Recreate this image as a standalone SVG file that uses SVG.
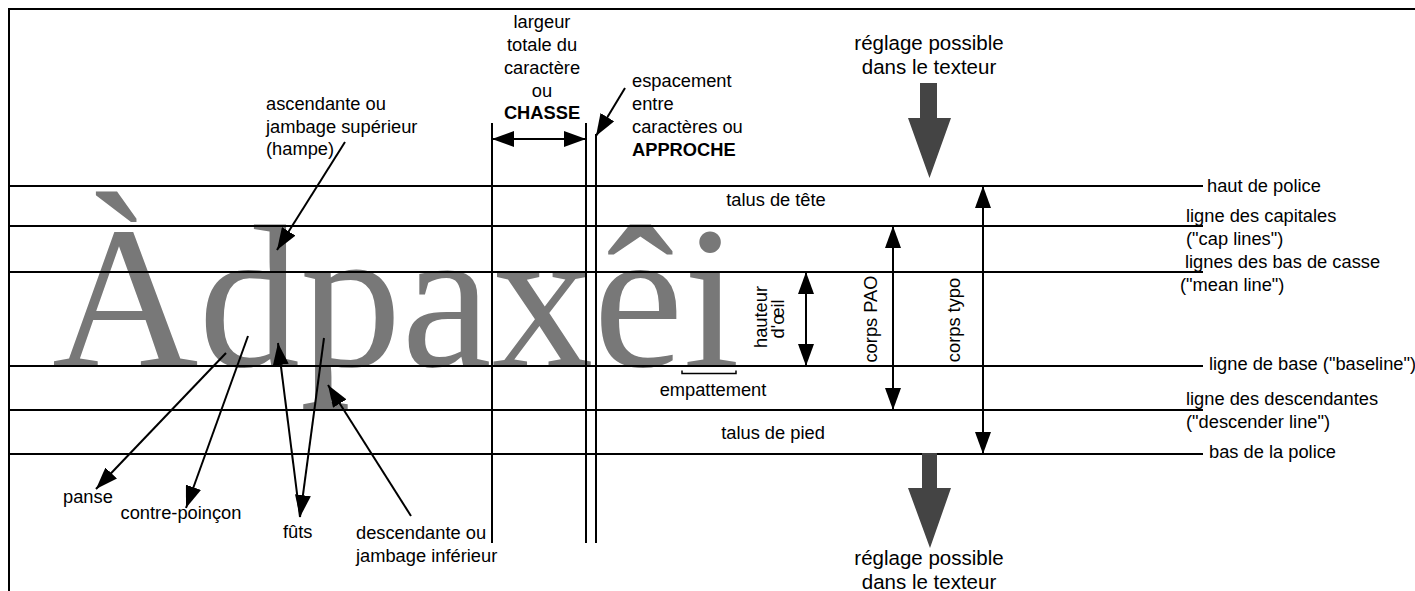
<svg xmlns="http://www.w3.org/2000/svg" width="1415" height="591" viewBox="0 0 1415 591">
<style>
  .t { font-family: "Liberation Sans", Arial, sans-serif; font-size: 18.3px; fill: #000; }
  .b { font-weight: bold; }
  .m { text-anchor: middle; }
  .big { font-family: "Liberation Sans", Arial, sans-serif; font-size: 20.5px; fill: #000; text-anchor: middle; }
  .ln { stroke: #000; stroke-width: 2; fill: none; }
  .ar { stroke: #000; stroke-width: 2; fill: none; marker-end: url(#ah); }
  .ar2 { stroke: #000; stroke-width: 2; fill: none; marker-start: url(#ah); marker-end: url(#ah); }
  .glyphs { font-family: "Liberation Serif", "Times New Roman", serif; font-size: 203px; fill: #787878; }
  .gray { fill: #444; }
</style>
<defs>
  <marker id="ah" viewBox="0 0 22 16" refX="22" refY="8" markerWidth="22" markerHeight="16" markerUnits="userSpaceOnUse" orient="auto-start-reverse">
    <path d="M0,0 L22,8 L0,16 Z" fill="#000"/>
  </marker>
</defs>
<rect width="1415" height="591" fill="#fff"/>

<g id="sample-text">
  <text class="glyphs" x="52" y="366">Àdpaxêi</text>
</g>

<g id="frame">
  <path class="ln" d="M9,591 V9 H1415"/>
</g>

<g id="guide-lines">
  <line class="ln" x1="9" y1="186" x2="1203" y2="186"/>
  <line class="ln" x1="9" y1="226" x2="1203" y2="226"/>
  <line class="ln" x1="9" y1="272" x2="1203" y2="272"/>
  <line class="ln" x1="9" y1="366" x2="1203" y2="366"/>
  <line class="ln" x1="9" y1="410" x2="1203" y2="410"/>
  <line class="ln" x1="9" y1="454" x2="1203" y2="454"/>
  <line class="ln" x1="492" y1="123" x2="492" y2="543"/>
  <line class="ln" x1="586" y1="123" x2="586" y2="543"/>
  <line class="ln" x1="596" y1="134" x2="596" y2="543"/>
</g>

<g id="connectors">
  <line class="ar2" x1="492" y1="139" x2="586" y2="139"/>
  <line class="ar" x1="625" y1="88" x2="596" y2="136"/>
  <line class="ar" x1="345" y1="142" x2="277" y2="250"/>
  <line class="ar" x1="226" y1="353" x2="96" y2="489"/>
  <line class="ar" x1="248" y1="336" x2="186" y2="508"/>
  <line class="ar" x1="300" y1="517" x2="278" y2="343"/>
  <line class="ar" x1="324" y1="338" x2="300" y2="517"/>
  <line class="ar" x1="411" y1="516" x2="328" y2="385"/>
  <line class="ar2" x1="806" y1="272" x2="806" y2="366"/>
  <line class="ar2" x1="893" y1="226" x2="893" y2="410"/>
  <line class="ar2" x1="983" y1="186" x2="983" y2="454"/>
  <path d="M682,370.5 V373.5 H736 V370.5" stroke="#000" stroke-width="1.5" fill="none"/>
</g>

<g id="adjust-arrows">
  <polygon class="gray" points="920,83 937,83 937,118 951,118 929.5,178 908,118 920,118"/>
  <polygon class="gray" points="922,453 937,453 937,488 951,488 930,548 908,488 922,488"/>
</g>

<g id="label-ascendante">
  <text class="t" x="266" y="110">ascendante ou</text>
  <text class="t" x="266" y="132.5">jambage supérieur</text>
  <text class="t" x="266" y="155">(hampe)</text>
</g>
<g id="label-chasse">
  <text class="t m" x="542" y="28">largeur</text>
  <text class="t m" x="542" y="51">totale du</text>
  <text class="t m" x="542" y="74">caractère</text>
  <text class="t m" x="542" y="96.5">ou</text>
  <text class="t m b" x="542" y="119">CHASSE</text>
</g>
<g id="label-approche">
  <text class="t" x="632" y="87">espacement</text>
  <text class="t" x="632" y="110">entre</text>
  <text class="t" x="632" y="133">caractères ou</text>
  <text class="t b" x="632" y="156">APPROCHE</text>
</g>
<g id="label-reglage-top">
  <text class="big" x="929" y="50">réglage possible</text>
  <text class="big" x="929" y="74">dans le texteur</text>
</g>
<g id="label-reglage-bottom">
  <text class="big" x="929" y="565">réglage possible</text>
  <text class="big" x="929" y="589">dans le texteur</text>
</g>
<g id="label-talus">
  <text class="t m" x="776" y="206">talus de tête</text>
  <text class="t m" x="773" y="438.5">talus de pied</text>
  <text class="t m" x="713" y="396">empattement</text>
</g>
<g id="label-dimensions">
  <text class="t m" transform="translate(767,317) rotate(-90)">hauteur</text>
  <text class="t m" transform="translate(784,319) rotate(-90)">d'œil</text>
  <text class="t m" transform="translate(877,319) rotate(-90)">corps PAO</text>
  <text class="t m" transform="translate(960,320) rotate(-90)">corps typo</text>
</g>
<g id="label-parts">
  <text class="t" x="63" y="503">panse</text>
  <text class="t" x="120.5" y="519">contre-poinçon</text>
  <text class="t" x="283" y="538">fûts</text>
  <text class="t" x="356" y="539">descendante ou</text>
  <text class="t" x="356" y="562">jambage inférieur</text>
</g>
<g id="label-lines">
  <text class="t" x="1207" y="192">haut de police</text>
  <text class="t" x="1186" y="222">ligne des capitales</text>
  <text class="t" x="1186" y="245">("cap lines")</text>
  <text class="t" x="1185" y="268">lignes des bas de casse</text>
  <text class="t" x="1180" y="291">("mean line")</text>
  <text class="t" x="1209" y="370">ligne de base ("baseline")</text>
  <text class="t" x="1186" y="405">ligne des descendantes</text>
  <text class="t" x="1186" y="428">("descender line")</text>
  <text class="t" x="1209" y="458">bas de la police</text>
</g>
</svg>
